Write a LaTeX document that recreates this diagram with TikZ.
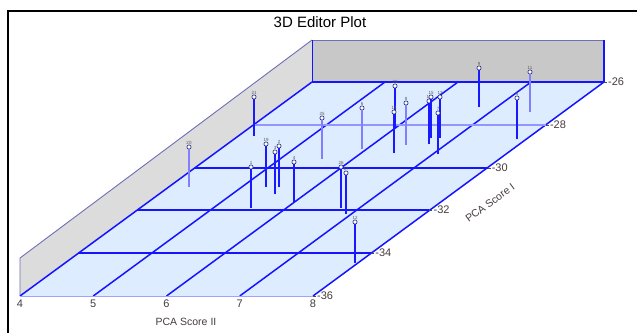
\documentclass[tikz,border=0pt]{standalone}
\usepackage{fontspec}
\setmainfont{Liberation Sans}
\definecolor{gridblue}{RGB}{20,20,255}
\definecolor{stemblue}{RGB}{25,25,255}
\definecolor{markblue}{RGB}{50,50,130}
\definecolor{wallpurple}{RGB}{110,110,185}
\definecolor{floorblue}{RGB}{221,236,255}
\definecolor{backgray}{RGB}{200,200,200}
\definecolor{leftgray}{RGB}{220,220,220}
\definecolor{labelgray}{RGB}{70,60,60}
\begin{document}
\begin{tikzpicture}[x=1pt,y=-1pt,
  gridline/.style={draw=gridblue,line width=1.5pt},
  hgridline/.style={draw=gridblue,line width=2pt},
  softgrid/.style={draw=gridblue!45,line width=2pt},
  wallline/.style={draw=wallpurple,line width=0.9pt},
  stem/.style={draw=stemblue,line width=1.1pt},
  softstem/.style={draw=stemblue!55,line width=1.1pt},
  marker/.style={circle,draw=markblue,fill=white,line width=0.7pt,inner sep=0pt,minimum size=4.2pt},
  ptlabel/.style={font=\fontsize{4.5}{4.5}\selectfont,text=gray!70!black,inner sep=0pt},
  ticklabel/.style={font=\fontsize{11}{12}\selectfont,text=labelgray,inner sep=0pt},
  axislabel/.style={font=\fontsize{10.5}{11}\selectfont,text=labelgray,inner sep=0pt}]
\useasboundingbox (0,0) rectangle (637,333);
% frame
\draw[black,line width=1.8pt] (8,333) -- (8,11) -- (637,11);
% title
\node[font=\fontsize{15}{16}\selectfont,inner sep=0pt] (title) at (320,22) {3D Editor Plot};
% walls
\fill[leftgray] (20,296) -- (20,258) -- (312,40) -- (312,82) -- cycle;
\draw[wallline] (20,296) -- (20,258) -- (312,40);
\fill[backgray] (312,40) rectangle (604,82);
\draw[wallline] (312,40) -- (604,40);
\draw[gridblue,line width=1pt] (312,40) -- (312,82);
\draw[gridblue,line width=1.5pt] (604,40) -- (604,82);
% floor
\fill[floorblue] (20,296) -- (313,296) -- (604,82) -- (312,82) -- cycle;
% floor grid: depth lines (PCA Score II)
\foreach \i/\v in {0/4,1/5,2/6,3/7,4/8}{
  \coordinate (f\v) at ({20+73.25*\i},296);
  \coordinate (b\v) at ({312+73*\i},82);
  \draw[gridline] (f\v) -- (b\v);
}
% horizontal lines (PCA Score I)
\foreach \k/\v/\y in {1/34/253,2/32/210,3/30/168}{
  \coordinate (l\v) at ({20+58.4*\k},\y);
  \coordinate (r\v) at ({313+58.2*\k},\y);
  \draw[hgridline] (l\v) -- (r\v);
}
\coordinate (l28) at ({20+58.4*4},125);
\coordinate (r28) at ({313+58.2*4},125);
\draw[softgrid] (l28) -- (r28);
\coordinate (l26) at (312,82);
\coordinate (r26) at (604,82);
\draw[hgridline] (l26) -- (r26);
\coordinate (l36) at (20,296);
\coordinate (r36) at (313,296);
\draw[draw=gridblue!40,line width=1pt] (l36) -- (r36);
% ticks and labels on PCA Score I
\foreach \v in {26,28,30,32,34,36}{
  \draw[black!70,line width=0.5pt] (r\v) -- ++(3,0);
  \node[ticklabel,anchor=west] (t\v) at ([xshift=4pt]r\v) {-\v};
}
% ticks and labels on PCA Score II
\foreach \v in {4,5,6,7,8}{
  \node[ticklabel,anchor=north] (s\v) at ([yshift=-4pt]f\v) {\v};
}
\node[axislabel] (xlab) at (186,322) {PCA Score II};
\node[axislabel,rotate=36.2] (ylab) at (490,203) {PCA Score I};
% data points: x / top / bottom / label / style
\foreach \x/\t/\b/\l/\s in {
  254/97/136/21/stem, 189/147/187/20/softstem, 266/144/187/19/stem,
  275/152/194/3/stem, 279/146/187/2/stem, 251/167/208/1/stem,
  294/162/203/4/stem, 341/167/208/26/stem, 346/173/214/17/stem,
  322/118/159/25/softstem, 362/108/149/6/softstem, 355/222/263/12/stem,
  395/86/127/23/stem, 406/103/145/8/softstem, 394/112/153/14/stem,
  429/101/144/16/stem, 431/97/138/15/stem, 440/97/138/13/stem,
  438/113/154/7/stem, 479/68/107/9/stem, 530/72/112/11/softstem,
  517/98/139/5/stem}{
  \coordinate (g\l) at (\x,\b);
  \node[marker] (p\l) at (\x,\t) {};
  \draw[\s] (p\l.south) -- (g\l);
  \node[ptlabel,anchor=south] (n\l) at ([yshift=0.3pt]p\l.north) {\l};
}
\end{tikzpicture}
\end{document}
